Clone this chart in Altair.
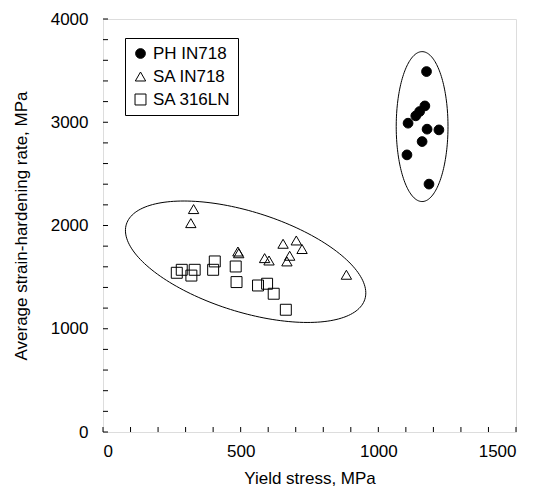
import altair as alt
import pandas as pd
import numpy as np

# --- data ---
ph_x = [1175, 1169, 1150, 1136, 1108, 1177, 1220, 1159, 1104, 1184]
ph_y = [3491, 3158, 3104, 3062, 2991, 2933, 2926, 2813, 2684, 2401]

sa_in_x = [329, 319, 490, 493, 587, 603, 654, 702, 723, 678, 668, 884]
sa_in_y = [2159, 2023, 1748, 1731, 1684, 1661, 1823, 1855, 1772, 1707, 1652, 1523]

sa_ln_x = [268, 286, 321, 333, 406, 400, 482, 485, 563, 596, 620, 664]
sa_ln_y = [1542, 1571, 1515, 1571, 1652, 1571, 1603, 1452, 1419, 1436, 1339, 1184]

series_names = ["PH IN718", "SA IN718", "SA 316LN"]

x_label_values = [0, 500, 1000, 1500]
y_label_values = [0, 1000, 2000, 3000, 4000]
x_minor_ticks = [0, 100, 200, 300, 400, 500, 600, 700, 800, 900, 1000, 1100, 1200, 1300, 1400, 1500]
y_minor_ticks = [0, 200, 400, 600, 800, 1000, 1200, 1400, 1600, 1800, 2000, 2200, 2400,
                 2600, 2800, 3000, 3200, 3400, 3600, 3800, 4000]

# ellipses: center and two conjugate semi-diameters (data units)
ell_ph = dict(cx=1159, cy=2958, ux=0, uy=726, vx=94, vy=0)
ell_sa = dict(cx=518, cy=1649, ux=433, uy=-364, vx=-55, vy=-462)

rows = []
for name, xs, ys in zip(series_names, [ph_x, sa_in_x, sa_ln_x], [ph_y, sa_in_y, sa_ln_y]):
    for a, b in zip(xs, ys):
        rows.append({"x": a, "y": b, "series": name})
pts = pd.DataFrame(rows)

erows = []
t = np.linspace(0, 2 * np.pi, 181)
for eid, e in [("ph", ell_ph), ("sa", ell_sa)]:
    for i, tt in enumerate(t):
        erows.append({
            "id": eid, "o": i,
            "x": e["cx"] + e["ux"] * np.cos(tt) + e["vx"] * np.sin(tt),
            "y": e["cy"] + e["uy"] * np.cos(tt) + e["vy"] * np.sin(tt),
        })
ell = pd.DataFrame(erows)

FONT = "Liberation Sans"
FS = 17
W, H = 413, 413

xscale = alt.Scale(domain=[0, 1500], nice=False, zero=False)
yscale = alt.Scale(domain=[0, 4000], nice=False, zero=False)

xaxis = alt.Axis(values=x_label_values, format="d", ticks=False, domain=False, grid=False,
                 title="Yield stress, MPa", labelFontSize=FS, titleFontSize=FS,
                 labelFont=FONT, titleFont=FONT, labelColor="black", titleColor="black",
                 labelPadding=11, titlePadding=11, titleFontWeight="normal")
yaxis = alt.Axis(values=y_label_values, format="d", ticks=False, domain=False, grid=False,
                 title="Average strain-hardening rate, MPa", labelFontSize=FS, titleFontSize=FS,
                 labelFont=FONT, titleFont=FONT, labelColor="black", titleColor="black",
                 labelPadding=15, titlePadding=20, titleFontWeight="normal")

leg = alt.Legend(title=None, orient="none", legendX=22, legendY=19,
                 strokeColor="black", padding=7, labelFontSize=FS,
                 labelFont=FONT, labelColor="black", symbolSize=100,
                 symbolStrokeWidth=1, rowPadding=5, labelOffset=4, fillColor="white")

points = alt.Chart(pts).mark_point(filled=True, strokeWidth=1, opacity=1).encode(
    x=alt.X("x:Q", scale=xscale, axis=xaxis),
    y=alt.Y("y:Q", scale=yscale, axis=yaxis),
    shape=alt.Shape("series:N", scale=alt.Scale(domain=series_names,
                                                range=["circle", "triangle-up", "square"]),
                    legend=leg),
    fill=alt.Fill("series:N", scale=alt.Scale(domain=series_names,
                                              range=["black", "transparent", "transparent"]),
                  legend=leg),
    stroke=alt.Stroke("series:N", scale=alt.Scale(domain=series_names,
                                                  range=["black", "black", "black"]),
                      legend=leg),
    size=alt.Size("series:N", scale=alt.Scale(domain=series_names, range=[95, 120, 100]),
                  legend=leg),
)

ellipses = alt.Chart(ell).mark_line(color="black", strokeWidth=1).encode(
    x=alt.X("x:Q", scale=xscale),
    y=alt.Y("y:Q", scale=yscale),
    detail="id:N",
    order="o:Q",
)

xt = alt.Chart(pd.DataFrame({"v": x_minor_ticks})).mark_rule(color="black", strokeWidth=1).encode(
    x=alt.X("v:Q", scale=xscale),
    y=alt.value(H), y2=alt.value(H - 5),
)
yt = alt.Chart(pd.DataFrame({"v": y_minor_ticks})).mark_rule(color="black", strokeWidth=1).encode(
    y=alt.Y("v:Q", scale=yscale),
    x=alt.value(0), x2=alt.value(5),
)

chart = alt.layer(ellipses, xt, yt, points).properties(
    width=W, height=H,
    autosize=alt.AutoSizeParams(type="none"),
    padding={"left": 103, "top": 19, "right": 23, "bottom": 66},
).configure_view(stroke="black", strokeWidth=1.3).configure(background="white")

chart.save("out.html", embed_options={"renderer": "svg", "actions": False})
